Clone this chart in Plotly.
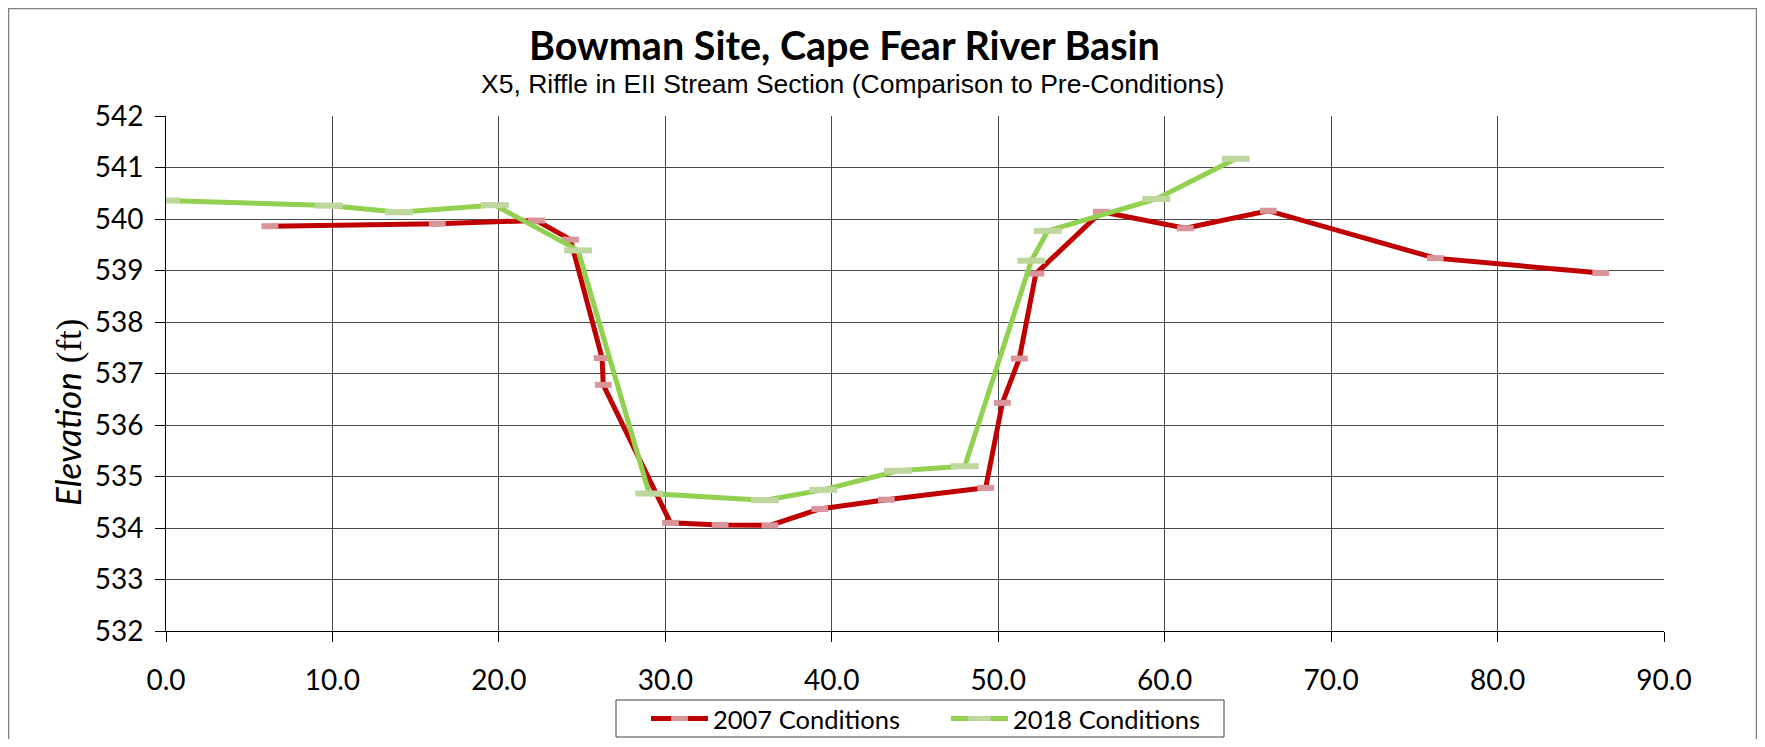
import plotly.graph_objects as go

# ---- data ----
x_2007 = [6.24, 16.3, 22.26, 24.3, 26.2, 26.27, 30.31, 33.29, 36.28, 39.28,
          43.28, 49.25, 50.25, 51.27, 52.26, 56.2, 61.24, 66.23, 76.26, 86.2]
y_2007 = [539.86, 539.91, 539.97, 539.60, 537.30, 536.78, 534.10, 534.06, 534.05, 534.37,
          534.55, 534.78, 536.43, 537.29, 538.94, 540.14, 539.82, 540.16, 539.24, 538.95]

x_2018 = [0.0, 9.79, 14.0, 19.76, 24.76, 29.03, 35.98, 39.48, 43.98, 47.99,
          51.99, 52.98, 59.5, 64.27]
y_2018 = [540.36, 540.26, 540.13, 540.27, 539.39, 534.67, 534.54, 534.74, 535.11, 535.20,
          539.19, 539.77, 540.39, 541.17]

series_names = ["2007 Conditions", "2018 Conditions"]
title_text = "Bowman Site, Cape Fear River Basin"
subtitle_text = "X5, Riffle in EII Stream Section (Comparison to Pre-Conditions)"

# ---- layout geometry (page pixels; the page body has an 8px margin) ----
OFF = 8
W, H = 1765 - 2 * OFF, 747 - 2 * OFF
L, R, T, B = 166 - OFF, 1664 - OFF, 116 - OFF, 631 - OFF
pw, ph = R - L, B - T


def px(xp):
    return (xp - OFF - L) / pw


def py(yp):
    return (B - (yp - OFF)) / ph


fig = go.Figure()
fig.add_trace(go.Scatter(
    x=x_2007, y=y_2007, name=series_names[0], mode="lines+markers",
    line=dict(color="#C00000", width=5),
    marker=dict(symbol="line-ew", size=12, color="#D9959A", line=dict(width=6, color="#D9959A")),
))
fig.add_trace(go.Scatter(
    x=x_2018, y=y_2018, name=series_names[1], mode="lines+markers",
    line=dict(color="#92D050", width=5),
    marker=dict(symbol="line-ew", size=20, color="#BFD69E", line=dict(width=6, color="#BFD69E")),
))

axis_common = dict(
    showgrid=True, gridcolor="#4a4a4a", gridwidth=1,
    showline=True, linecolor="#000000", linewidth=1,
    ticks="outside", ticklen=10, tickcolor="#000000", tickwidth=1,
    tickfont=dict(family="Lato", size=28, color="#000000"),
    zeroline=False, mirror=False, automargin=False,
)

fig.update_xaxes(range=[0, 90], dtick=10, tick0=0, tickformat=".1f", ticklabelstandoff=14, **axis_common)
fig.update_yaxes(range=[532, 542], dtick=1, tick0=532, ticklabelstandoff=6, **axis_common)

fig.update_layout(
    width=W, height=H,
    margin=dict(l=L, r=W - R, t=T, b=H - B, autoexpand=False),
    paper_bgcolor="#ffffff", plot_bgcolor="#ffffff",
    showlegend=True,
    legend=dict(
        orientation="h", x=px(646), xanchor="left", y=py(719), yanchor="middle",
        borderwidth=0, bgcolor="rgba(0,0,0,0)",
        font=dict(family="Lato", size=25.5, color="#000000"),
        itemwidth=57, entrywidth=228, entrywidthmode="pixels", tracegroupgap=0,
    ),
    annotations=[
        dict(text="<b>" + title_text + "</b>", xref="paper", yref="paper",
             x=px(844), y=py(45), xanchor="center", yanchor="middle", showarrow=False,
             font=dict(family="Lato", size=39.5, color="#000000")),
        dict(text=subtitle_text, xref="paper", yref="paper",
             x=px(852), y=py(84), xanchor="center", yanchor="middle", showarrow=False,
             font=dict(family="Liberation Sans", size=26.5, color="#000000")),
        dict(text="<i>Elevation</i> <span style='font-family:Liberation Serif'>(ft)</span>",
             xref="paper", yref="paper", x=px(68), y=py(413), xanchor="center", yanchor="middle",
             textangle=-90, showarrow=False,
             font=dict(family="Lato", size=35, color="#000000")),
    ],
    shapes=[
        # outer chart border
        dict(type="rect", xref="paper", yref="paper",
             x0=px(8.5), x1=px(1756.5), y0=py(8.5), y1=py(770),
             line=dict(color="#808080", width=1.5), fillcolor="rgba(0,0,0,0)", layer="below"),
        # legend box
        dict(type="rect", xref="paper", yref="paper",
             x0=px(616), x1=px(1224), y0=py(700), y1=py(737),
             line=dict(color="#404040", width=1), fillcolor="rgba(0,0,0,0)", layer="below"),
    ],
)

fig.write_html("out.html")
